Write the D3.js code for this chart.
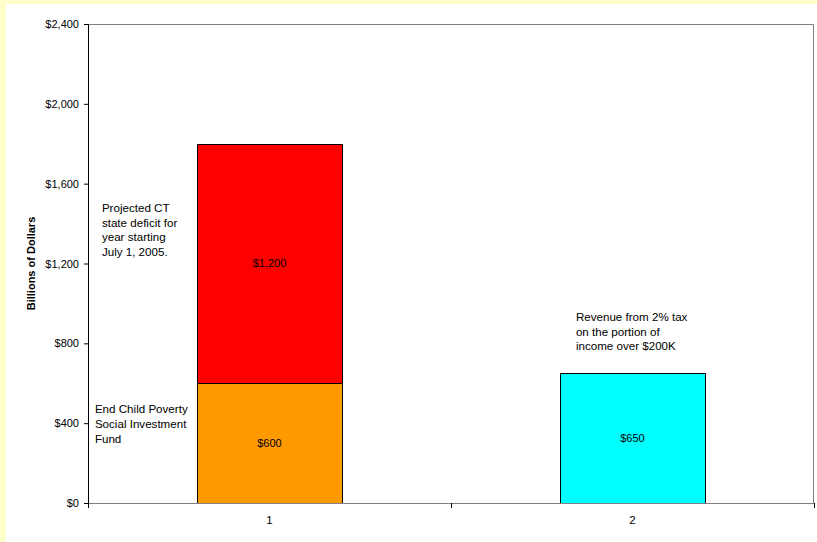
<!DOCTYPE html>
<html>
<head>
<meta charset="utf-8">
<script src="https://cdn.jsdelivr.net/npm/d3@7"></script>
<style>
  body { margin: 0; background: #ffffcc; }
  svg { display: block; font-family: Arial, "Liberation Sans", sans-serif; }
</style>
</head>
<body>
<div id="chartDiv"></div>
<script>
'use strict';

// chart values
const categories = ['1', '2'];
const childFund = [600, 0];       // bottom segment
const stateDeficit = [1200, 0];   // stacked on top
const taxRevenue = [0, 650];
const yTicks = [0, 400, 800, 1200, 1600, 2000, 2400];

// annotation text; value = y of first line, dx = offset from bar's left edge
const notes = [
    { cat: '1', value: 1478, dx: -95, lines: ['Projected CT', 'state deficit for', 'year starting', 'July 1, 2005.'] },
    { cat: '1', value: 469, dx: -102, lines: ['End Child Poverty', 'Social Investment', 'Fund'] },
    { cat: '2', value: 933, dx: 16, lines: ['Revenue from 2% tax', 'on the portion of', 'income over $200K'] }
];

const W = 817, H = 542;
const margin = { top: 24, right: 3, bottom: 39, left: 88 };
const width = W - margin.left - margin.right;
const height = H - margin.top - margin.bottom;

const svg = d3.select('#chartDiv').append('svg')
    .attr('width', W)
    .attr('height', H);

// white panel over the yellow page
svg.append('rect')
    .attr('x', 6).attr('y', 4)
    .attr('width', W - 6).attr('height', H - 4)
    .attr('fill', '#ffffff');

const g = svg.append('g')
    .attr('transform', 'translate(' + margin.left + ',' + margin.top + ')');

const xScale = d3.scaleBand()
    .domain(categories)
    .range([0, width])
    .paddingInner(0.6)
    .paddingOuter(0.3);

const yScale = d3.scaleLinear()
    .domain([0, 2400])
    .range([height, 0]);

// plot frame (top & right grey)
g.append('path')
    .attr('d', 'M0,0.5H' + (width - 0.5) + 'V' + height)
    .attr('fill', 'none')
    .attr('stroke', '#808080');

// build stacked segments
const segments = [];
categories.forEach((c, i) => {
    let base = 0;
    [[childFund[i], '#ff9900'], [stateDeficit[i], '#ff0000'], [taxRevenue[i], '#00ffff']].forEach(([v, col]) => {
        if (v > 0) {
            segments.push({ cat: c, y0: base, y1: base + v, value: v, color: col });
            base += v;
        }
    });
});

g.selectAll('rect.seg')
    .data(segments)
    .enter().append('rect')
    .attr('class', 'seg')
    .attr('x', d => Math.round(xScale(d.cat)) + 0.5)
    .attr('y', d => Math.round(yScale(d.y1)) + 0.5)
    .attr('width', Math.round(xScale.bandwidth()))
    .attr('height', d => Math.round(yScale(d.y0)) - Math.round(yScale(d.y1)))
    .attr('fill', d => d.color)
    .attr('stroke', '#000')
    .attr('stroke-width', 1);

g.selectAll('text.val')
    .data(segments)
    .enter().append('text')
    .attr('class', 'val')
    .attr('x', d => xScale(d.cat) + xScale.bandwidth() / 2)
    .attr('y', d => yScale((d.y0 + d.y1) / 2))
    .attr('dy', '0.35em')
    .attr('text-anchor', 'middle')
    .attr('font-size', 11)
    .attr('fill', '#000')
    .text(d => '$' + d3.format(',')(d.value));

// y axis
const yAxis = g.append('g')
    .call(d3.axisLeft(yScale).tickValues(yTicks).tickSize(4).tickPadding(5)
        .tickFormat(d => '$' + d3.format(',')(d)));
yAxis.select('.domain').attr('stroke', '#000');
yAxis.selectAll('.tick line').attr('stroke', '#000');
yAxis.selectAll('.tick text').attr('font-size', 11).attr('fill', '#000')
    .attr('font-family', 'Arial, "Liberation Sans", sans-serif');

// x axis: ticks between categories
const xAxis = g.append('g')
    .attr('transform', 'translate(0,' + height + ')');
xAxis.append('line')
    .attr('x1', 0).attr('x2', width)
    .attr('y1', 0.5).attr('y2', 0.5)
    .attr('stroke', '#808080');
const step = xScale.step();
const xTickPos = d3.range(categories.length + 1).map(i => i === 0 ? 0 : Math.min(width, xScale(categories[i - 1]) + xScale.bandwidth() / 2 + step / 2));
xAxis.selectAll('line.tk')
    .data(xTickPos)
    .enter().append('line')
    .attr('class', 'tk')
    .attr('x1', d => Math.round(d) + 0.5).attr('x2', d => Math.round(d) + 0.5)
    .attr('y1', 0).attr('y2', 5)
    .attr('stroke', '#000');
xAxis.selectAll('text')
    .data(categories)
    .enter().append('text')
    .attr('x', d => xScale(d) + xScale.bandwidth() / 2)
    .attr('y', 17)
    .attr('dy', '0.35em')
    .attr('text-anchor', 'middle')
    .attr('font-size', 11.5)
    .attr('fill', '#000')
    .text(d => d);

// y title
svg.append('text')
    .attr('transform', 'translate(31,' + (margin.top + height / 2) + ') rotate(-90)')
    .attr('dy', '0.35em')
    .attr('text-anchor', 'middle')
    .attr('font-size', 11)
    .attr('font-weight', 'bold')
    .text('Billions of Dollars');

// annotations
notes.forEach(n => {
    const x0 = xScale(n.cat) + n.dx;
    const t = g.append('text')
        .attr('x', x0)
        .attr('y', yScale(n.value))
        .attr('font-size', 11.6)
        .attr('fill', '#000');
    n.lines.forEach((l, i) => {
        t.append('tspan')
            .attr('x', x0)
            .attr('dy', i === 0 ? '0.35em' : '14.7px')
            .text(l);
    });
});
</script>
</body>
</html>
